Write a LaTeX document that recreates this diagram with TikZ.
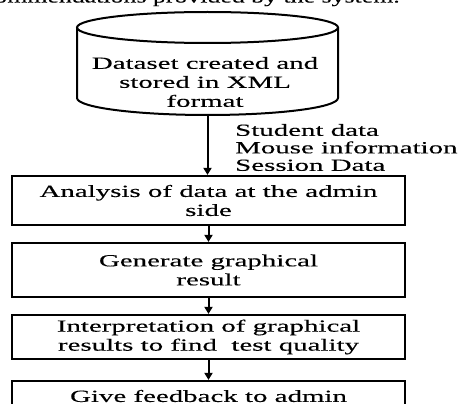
\documentclass[tikz,border=0pt]{standalone}
\usepackage{fontspec}
\setmainfont{Liberation Serif}[FakeStretch=1.7,FakeBold=0.3]
\newfontfamily\capfont{Liberation Serif}[FakeStretch=1.52,FakeBold=0.3]
\usetikzlibrary{arrows.meta}
\begin{document}
\begin{tikzpicture}[x=1pt,y=-1pt,
  txt/.style={font=\fontsize{17}{19}\selectfont, align=center, inner sep=0pt},
  stepbox/.style={draw, line width=2.2pt, minimum width=393pt, txt},
  flow/.style={line width=2pt, -{Triangle[length=7pt,width=8pt]}},
  shapeline/.style={line width=2pt}]
\useasboundingbox (0,0) rectangle (461,404);
\clip (0,0) rectangle (461,404);
% caption fragment
\node[font=\capfont\fontsize{17}{19}\selectfont, inner sep=0pt, anchor=base east] (cap) at (400,2.5) {recommendations provided by the system.};
% cylinder
\draw[shapeline] (77,27.5) -- (77,98) arc[start angle=180, end angle=360, x radius=130.5, y radius=-17] -- (338,27.5);
\draw[shapeline] (207.5,27.5) ellipse[x radius=130.5, y radius=15.5];
\node[txt] (db) at (205,82) {Dataset created and\\stored in XML\\format};
\coordinate (dbbot) at (207.5,115);
% boxes
\node[stepbox, minimum height=49pt] (b1) at (208.5,200.5) {Analysis of data at the admin\\side};
\node[stepbox, minimum height=54pt] (b2) at (208.5,270) {Generate graphical\\result};
\node[stepbox, minimum height=44pt] (b3) at (208.5,337) {Interpretation of graphical\\results to find\ \ test quality};
\node[stepbox, minimum height=30pt] (b4) at (208.5,396) {Give feedback to admin};
% label
\node[font=\fontsize{17}{17.5}\selectfont, align=left, inner sep=0pt, anchor=west] (lab) at (235,147.5) {Student data\\Mouse information\\Session Data};
% connectors
\draw[flow] (dbbot) -- (dbbot |- b1.north);
\draw[flow] (b1) -- (b2);
\draw[flow] (b2) -- (b3);
\draw[flow] (b3) -- (b4);
\end{tikzpicture}
\end{document}
